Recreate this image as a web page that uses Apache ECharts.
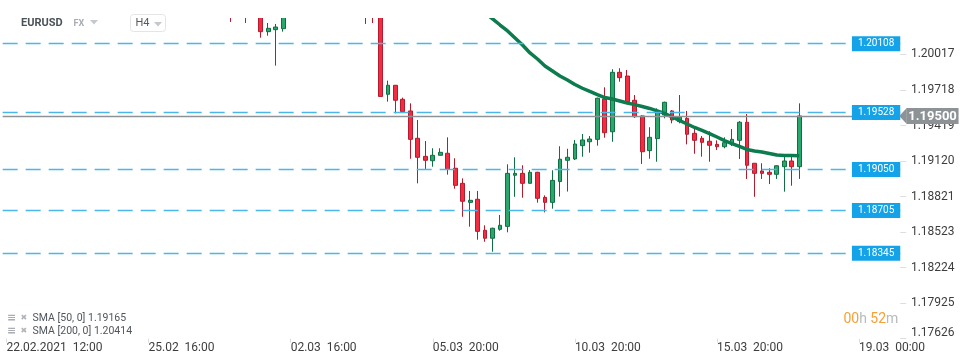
<!DOCTYPE html>
<html><head><meta charset="utf-8">
<script src="https://cdn.jsdelivr.net/npm/echarts@6/dist/echarts.min.js"></script>
<style>html,body{margin:0;padding:0;background:#fff}#c{width:970px;height:364px}</style>
</head><body><div id="c"></div>
<script>
// ---- data (EURUSD, H4) ----
const categoryCount = 120;          // candle slots incl. future space
const firstCandle = 30;             // index of first entry in the candle arrays
const candleOpen = [1.2045,null,1.2035,null,1.2036,1.20209,1.20226,1.20234,
  null,null,null,null,null,null,null,null,null,null,
  1.2045,1.2038,1.2033,1.19682,1.19758,1.19640,1.19542,1.19312,1.19160,1.19123,
  1.19169,1.19186,1.19060,1.18933,1.18773,1.18799,1.18538,1.18471,1.18546,1.18571,
  1.19001,1.19017,1.18933,1.19026,1.18815,1.18773,1.18948,1.19127,1.19138,1.19250,
  1.19283,1.19303,1.19643,1.19367,1.19867,1.19836,1.19632,1.19500,1.19208,1.19309,
  1.19508,1.19542,1.19452,1.19480,1.19354,1.19312,1.19287,1.19261,1.19241,1.19264,
  1.19295,1.19447,1.19102,1.19037,1.19026,1.19009,1.19073,1.19121,1.19073];
const candleClose = [1.2035,null,1.2045,null,1.20209,1.20237,1.20248,1.2040,
  null,null,null,null,null,null,null,null,null,null,
  1.2035,1.2033,1.19664,1.19758,1.19632,1.19536,1.19303,1.19152,1.19127,1.19169,
  1.19194,1.19051,1.18916,1.18782,1.18790,1.18529,1.18471,1.18555,1.18580,1.19017,
  1.19017,1.18933,1.19026,1.18807,1.18773,1.18958,1.19136,1.19152,1.19264,1.19298,
  1.19306,1.19649,1.19359,1.19867,1.19822,1.19620,1.19494,1.19199,1.19320,1.19544,
  1.19615,1.19466,1.19489,1.19346,1.19295,1.19278,1.19253,1.19241,1.19275,1.19303,
  1.19447,1.19085,1.19017,1.19017,1.19009,1.19081,1.19121,1.19073,1.19500];
const candleLow = [1.20291,null,1.20282,null,1.20158,1.20175,1.19923,1.20209,
  null,null,null,null,null,null,null,null,null,null,
  1.20274,1.20282,1.19664,1.19620,1.19522,1.19530,1.19140,1.18933,1.19054,1.19073,
  1.19169,1.19006,1.18888,1.18652,1.18568,1.18459,1.18442,1.18358,1.18534,1.18521,
  1.18820,1.18812,1.18933,1.18770,1.18689,1.18720,1.18822,1.18864,1.19129,1.19157,
  1.19191,1.19250,1.19317,1.19283,1.19788,1.19620,1.19483,1.19096,1.19140,1.19115,
  1.19480,1.19438,1.19438,1.19261,1.19182,1.19157,1.19115,1.19214,1.19228,1.19247,
  1.19138,1.18970,1.18820,1.18970,1.18927,1.18970,1.18863,1.18913,1.18970];
const candleHigh = [1.2050,null,1.2050,null,1.2040,1.20282,1.20274,1.2045,
  null,null,null,null,null,null,null,null,null,null,
  1.2050,1.2042,1.2040,1.19797,1.19760,1.19654,1.19606,1.19466,1.19289,1.19228,
  1.19228,1.19320,1.19144,1.18975,1.18869,1.18869,1.18580,1.18560,1.18667,1.19093,
  1.19152,1.19085,1.19045,1.19030,1.18832,1.19043,1.19245,1.19224,1.19298,1.19348,
  1.19331,1.19654,1.19741,1.19893,1.19901,1.19887,1.19676,1.19505,1.19405,1.19564,
  1.19620,1.19550,1.19676,1.19542,1.19393,1.19331,1.19371,1.19295,1.19320,1.19390,
  1.19457,1.19516,1.19102,1.19102,1.19060,1.19085,1.19157,1.19157,1.19606];
const smaFirst = 64;
const sma50 = [1.20366,1.20316,1.20265,1.20215,1.20156,1.20097,1.20030,1.19979,1.19920,1.19878,
  1.19836,1.19802,1.19765,1.19733,1.19706,1.19680,1.19655,1.19643,1.19626,1.19609,
  1.19595,1.19580,1.19563,1.19542,1.19521,1.19491,1.19462,1.19432,1.19403,1.19378,
  1.19352,1.19323,1.19293,1.19268,1.19243,1.19218,1.19205,1.19197,1.19184,1.19171,
  1.19167,1.19167,1.19165];
const priceLevels = [1.20108, 1.19528, 1.19050, 1.18705, 1.18345];
const lastPrice = 1.19500;
const yTicks = [1.17626, 1.17925, 1.18224, 1.18523, 1.18821, 1.19120, 1.19419, 1.19718, 1.20017];
const yMin = 1.17626, yMax = 1.20324;
const xTickIdx = [0, 19, 38, 57, 76, 95, 114];
const xTickLabels = ['22.02.2021  12:00', '25.02  16:00', '02.03  16:00', '05.03  20:00', '10.03  20:00', '15.03  20:00', '19.03  00:00'];
const legendTexts = ['SMA [50, 0] 1.19165', 'SMA [200, 0] 1.20414'];
const symbolName = 'EURUSD', marketName = 'FX', periodName = 'H4';
const countdown = ['00', '52'];

// ---- build ----
const GRID_L = 2.66, PITCH = 7.48, GRID_T = 18, GRID_H = 320.7;
const gridW = PITCH * categoryCount;
const cats = [];
for (let i = 0; i < categoryCount; i++) cats.push(String(i));
const candles = [];
const lastIdx = firstCandle + candleOpen.length - 1;
for (let i = 0; i <= lastIdx; i++) {
  const k = i - firstCandle;
  if (k < 0 || candleOpen[k] == null) { candles.push(['-', '-', '-', '-']); continue; }
  candles.push([candleOpen[k], candleClose[k], candleLow[k], candleHigh[k]]);
}
const smaData = [];
for (let i = 0; i <= lastIdx; i++) {
  const k = i - smaFirst;
  smaData.push(k >= 0 ? sma50[k] : '-');
}
const FONT = 'Roboto';
const chart = echarts.init(document.getElementById('c'), null, {renderer: 'canvas'});
chart.setOption({
  animation: false,
  backgroundColor: '#ffffff',
  grid: {left: GRID_L, top: GRID_T, width: gridW, height: GRID_H},
  xAxis: {
    type: 'category', data: cats, boundaryGap: true,
    axisLine: {show: false},
    axisTick: {show: true, alignWithLabel: true, interval: (i) => xTickIdx.includes(i), length: 4, lineStyle: {color: '#dcdcdc'}},
    axisLabel: {interval: (i) => xTickIdx.includes(i), formatter: (v, i) => xTickLabels[xTickIdx.indexOf(Number(v))] || '',
      align: 'left', margin: 3, fontSize: 12, color: '#3d3d3d', fontFamily: FONT},
    splitLine: {show: false}
  },
  yAxis: {
    type: 'value', position: 'right', min: yMin, max: yMax,
    axisLine: {show: false}, splitLine: {show: false},
    axisTick: {show: true, customValues: yTicks, length: 6, lineStyle: {color: '#dedede'}},
    axisLabel: {customValues: yTicks, margin: 10.7, fontSize: 12, color: '#3d3d3d', fontFamily: FONT,
      formatter: (v) => (Math.abs(v - yTicks[0]) < 1e-9 ? '{lo|' + v.toFixed(5) + '}' : v.toFixed(5)),
      rich: {lo: {padding: [0, 0, 12, 0], fontSize: 12, color: '#3d3d3d', fontFamily: FONT}}}
  },
  series: [
    {
      type: 'line', data: [], z: 1, silent: true,
      markLine: {
        silent: true, symbol: ['none', 'none'], animation: false, precision: 5,
        data: priceLevels.map(v => ({
          yAxis: v,
          lineStyle: {color: '#4ab6ea', type: [15, 8], width: 1.3},
          label: {show: true, position: 'insideEnd', distance: 0, formatter: (p) => Number(p.value).toFixed(5),
            color: '#ffffff', backgroundColor: '#14a3e8', padding: [3, 6, 2, 6], fontSize: 10, lineHeight: 10, fontFamily: FONT}
        })).concat([{yAxis: lastPrice, lineStyle: {color: '#8c9296', type: 'solid', width: 1.3}, label: {show: false}}])
      }
    },
    {
      type: 'candlestick', data: candles, z: 2, barWidth: 4.2, clip: true,
      itemStyle: {color: '#2aa86c', color0: '#f52b42', borderColor: '#106e43', borderColor0: '#b51b2c', borderWidth: 1}
    },
    {
      type: 'line', data: smaData, z: 3, symbol: 'none', smooth: false,
      lineStyle: {color: '#0c7b4e', width: 3.5}
    }
  ]
});

// price tag for last price, placed through the axis scale
const yP = chart.convertToPixel({yAxisIndex: 0}, lastPrice);
const xR = GRID_L + gridW;
const tri = (x1, y1, w, h) => [[x1, y1], [x1 + w, y1], [x1 + w / 2, y1 + h]];
chart.setOption({
  graphic: [
    // mask everything above the plot area (candles overflowing the top)
    {type: 'rect', z: 50, silent: true, shape: {x: 0, y: 0, width: 970, height: GRID_T}, style: {fill: '#ffffff'}},
    {type: 'text', z: 100, style: {text: symbolName, x: 21, y: 23.5, verticalAlign: 'middle', font: 'bold 11px Roboto', fill: '#4a5259'}},
    {type: 'text', z: 100, style: {text: marketName, x: 73.5, y: 24, verticalAlign: 'middle', font: 'bold 9px Roboto', fill: '#a7adb3'}},
    {type: 'polygon', z: 100, shape: {points: tri(90, 20, 8, 4.5)}, style: {fill: '#c5c9cd'}},
    {type: 'rect', z: 100, shape: {x: 130.5, y: 14.5, width: 35, height: 17, r: 3}, style: {fill: '#ffffff', stroke: '#e3e5e7', lineWidth: 1}},
    {type: 'text', z: 101, style: {text: periodName, x: 135.5, y: 23.5, verticalAlign: 'middle', font: '11px Roboto', fill: '#555b61'}},
    {type: 'polygon', z: 101, shape: {points: tri(154, 22, 8, 4.5)}, style: {fill: '#c5c9cd'}},
    {type: 'text', z: 100, style: {text: '≡', x: 7, y: 318, verticalAlign: 'middle', font: 'bold 11px DejaVu Sans', fill: '#a9adb1'}},
    {type: 'text', z: 100, style: {text: '✖', x: 20.5, y: 318, verticalAlign: 'middle', font: '8px DejaVu Sans', fill: '#b1b5b9'}},
    {type: 'text', z: 100, style: {text: legendTexts[0], x: 32.5, y: 318, verticalAlign: 'middle', font: '10.5px Roboto', fill: '#50565c'}},
    {type: 'text', z: 100, style: {text: '≡', x: 7, y: 331, verticalAlign: 'middle', font: 'bold 11px DejaVu Sans', fill: '#a9adb1'}},
    {type: 'text', z: 100, style: {text: '✖', x: 20.5, y: 331, verticalAlign: 'middle', font: '8px DejaVu Sans', fill: '#b1b5b9'}},
    {type: 'text', z: 100, style: {text: legendTexts[1], x: 32.5, y: 331, verticalAlign: 'middle', font: '10.5px Roboto', fill: '#50565c'}},
    {type: 'text', z: 100, style: {text: '{o|' + countdown[0] + '}{g|h} {o|' + countdown[1] + '}{g|m}', x: 843.5, y: 319, verticalAlign: 'middle',
      rich: {o: {fontSize: 14, fontFamily: FONT, fill: '#f7a035'}, g: {fontSize: 14, fontFamily: FONT, fill: '#b7bbbf'}}}},
    {type: 'polygon', z: 100, shape: {points: [[xR - 1, yP], [xR + 6.5, yP - 8], [xR + 6.5, yP + 8]]}, style: {fill: '#8c9296'}},
    {type: 'rect', z: 100, shape: {x: xR + 6.3, y: yP - 8, width: 52, height: 16}, style: {fill: '#8c9296'}},
    {type: 'text', z: 101, style: {text: lastPrice.toFixed(5), x: xR + 32.3, y: yP + 0.5, align: 'center', verticalAlign: 'middle', font: 'bold 13px Roboto', fill: '#ffffff'}}
  ]
});
</script>
</body></html>
